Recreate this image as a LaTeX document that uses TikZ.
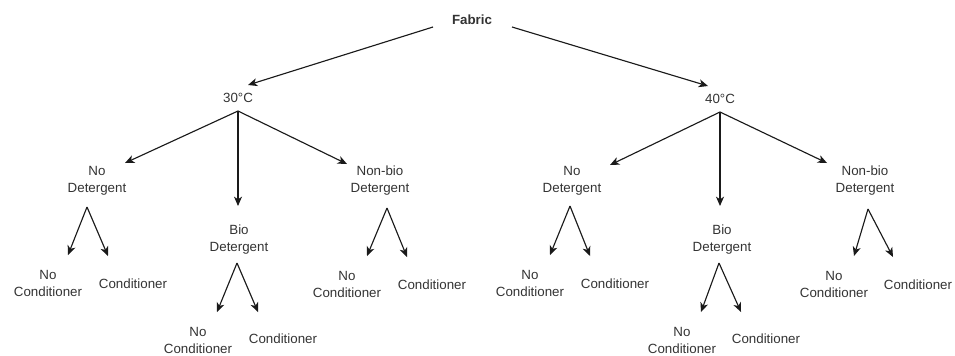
\documentclass[tikz,border=0pt]{standalone}
\usepackage{fontspec}
\setmainfont{Liberation Sans}
\usetikzlibrary{arrows.meta,calc}
\definecolor{txt}{HTML}{333333}
\definecolor{ln}{HTML}{1A1A1A}
\begin{document}
\begin{tikzpicture}[x=0.75pt,y=-0.75pt,
  lbl/.style={text=txt,font=\fontsize{10}{12.75}\selectfont,align=center,inner sep=0pt},
  arr/.style={draw=ln,line width=0.85pt,-{Stealth[length=7pt,width=6pt,inset=2pt]}}]
\useasboundingbox (0,0) rectangle (955,355);
% nodes
\node[lbl,font=\fontsize{10}{12.75}\selectfont\bfseries] (fab) at (472,20) {Fabric};
\node[lbl] (t30) at (238,98) {30°C};
\node[lbl] (t40) at (720,99) {40°C};
\node[lbl] (nd1) at (97,181) {No\\Detergent};
\node[lbl] (bio1) at (239,240) {Bio\\Detergent};
\node[lbl] (nb1) at (380,181) {Non-bio\\Detergent};
\node[lbl] (nd2) at (572,181) {No\\Detergent};
\node[lbl] (bio2) at (722,240) {Bio\\Detergent};
\node[lbl] (nb2) at (865,181) {Non-bio\\Detergent};
% leaves
\node[lbl] (nd1n) at (48,283) {No\\Conditioner};
\node[lbl] (nd1c) at (133,284) {Conditioner};
\node[lbl] (bio1n) at (198,340) {No\\Conditioner};
\node[lbl] (bio1c) at (283,339) {Conditioner};
\node[lbl] (nb1n) at (347,284) {No\\Conditioner};
\node[lbl] (nb1c) at (432,285) {Conditioner};
\node[lbl] (nd2n) at (530,283) {No\\Conditioner};
\node[lbl] (nd2c) at (615,284) {Conditioner};
\node[lbl] (bio2n) at (682,340) {No\\Conditioner};
\node[lbl] (bio2c) at (766,339) {Conditioner};
\node[lbl] (nb2n) at (834,284) {No\\Conditioner};
\node[lbl] (nb2c) at (918,285) {Conditioner};
% top edges
\draw[arr] ($(fab)+(-39,7)$) -- ($(t30)+(10,-13)$);
\draw[arr] ($(fab)+(40,7)$) -- ($(t40)+(-12,-13)$);
\draw[arr] ($(t30)+(0,13)$) -- ($(nd1)+(28,-18)$);
\draw[arr] ($(t30)+(0,13)$) -- ($(bio1)+(-1,-34)$);
\draw[arr] ($(t30)+(0,13)$) -- ($(nb1)+(-33,-17)$);
\draw[arr] ($(t40)+(0,13)$) -- ($(nd2)+(38,-16)$);
\draw[arr] ($(t40)+(0,13)$) -- ($(bio2)+(-2,-34)$);
\draw[arr] ($(t40)+(0,13)$) -- ($(nb2)+(-38,-18)$);
% lower edges
\foreach \p/\dx/\dy in {nd1/-10/26,nb1/7/27,nd2/-2/25,nb2/3/28}{
  \draw[arr] ($(\p)+(\dx,\dy)$) -- ($(\p n)+(20,-28)$);
  \draw[arr] ($(\p)+(\dx,\dy)$) -- ($(\p c)+(-25,-28)$);
}
\foreach \p/\dx in {bio1/-2,bio2/-3}{
  \draw[arr] ($(\p)+(\dx,23)$) -- ($(\p n)+(19,-28)$);
  \draw[arr] ($(\p)+(\dx,23)$) -- ($(\p c)+(-25,-27)$);
}
\end{tikzpicture}
\end{document}
